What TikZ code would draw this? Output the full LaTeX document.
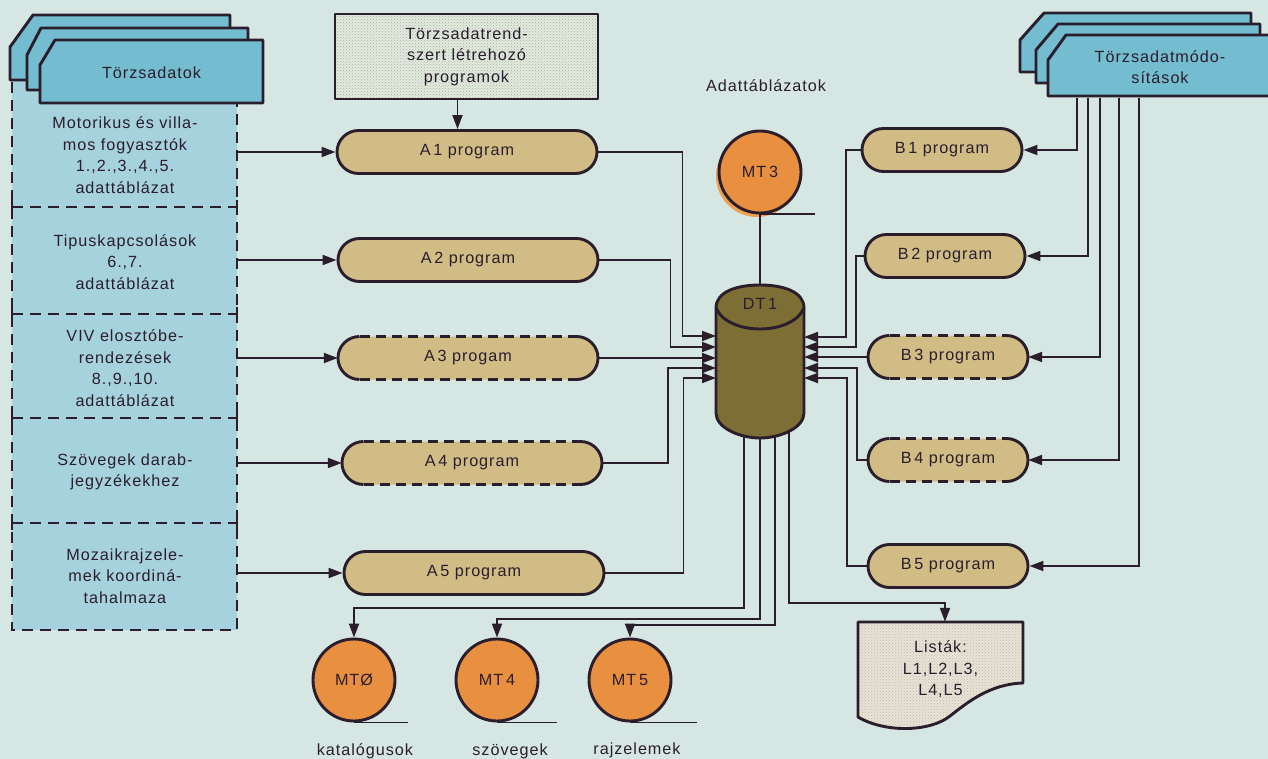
\documentclass[tikz,border=0pt]{standalone}
\usepackage{fontspec}
\setmainfont{Liberation Sans}[LetterSpace=6.0]
\usetikzlibrary{arrows.meta,shapes.misc,patterns}

\definecolor{page}{RGB}{214,230,226}
\definecolor{ink}{RGB}{42,30,45}
\definecolor{tab}{RGB}{116,188,208}
\definecolor{sheet}{RGB}{166,210,221}
\definecolor{prog}{RGB}{208,188,132}
\definecolor{tape}{RGB}{232,143,64}
\definecolor{tapeghost}{RGB}{236,160,84}
\definecolor{drum}{RGB}{124,110,52}
\definecolor{dotbg}{RGB}{226,234,222}
\definecolor{dotfg}{RGB}{168,182,162}
\definecolor{listbg}{RGB}{230,228,216}
\definecolor{listfg}{RGB}{205,182,165}

\newcommand\diagfont{\fontsize{16.2}{21.5}\selectfont}

\tikzset{
  every node/.style={text=ink},
  wire/.style={draw=ink, line width=1.9pt},
  conn/.style={wire, -{Triangle[length=14pt,width=10pt]}},
  outline/.style={draw=ink, line width=2.9pt, line join=round},
  framedash/.style={draw=ink, line width=2.9pt, dash pattern=on 11pt off 7pt},
  tick/.style={draw=ink, line width=2.9pt},
  pill/.style={rounded rectangle, fill=prog, minimum height=43, inner sep=0},
  apill/.style={pill, minimum width=260},
  bpill/.style={pill, minimum width=160},
  sect/.style={align=center, minimum width=225, inner sep=0},
  tapenode/.style={circle, fill=tape, outline, minimum size=82, inner sep=0},
  dotted box/.style={outline, preaction={fill=dotbg}, pattern=crosshatch dots, pattern color=dotfg},
}

% border of a program pill whose long sides are dashed: centre x, centre y, half width, end radius
\newcommand\dashrim[4]{%
  \draw[outline] ({#1+#3-#4},{#2-#4}) arc[start angle=-90,end angle=90,radius=#4];
  \draw[outline] ({#1-#3+#4},{#2+#4}) arc[start angle=90,end angle=270,radius=#4];
  \draw[outline, dash pattern=on 10pt off 6pt] ({#1-#3+#4},{#2-#4}) -- ({#1+#3-#4},{#2-#4});
  \draw[outline, dash pattern=on 10pt off 6pt] ({#1-#3+#4},{#2+#4}) -- ({#1+#3-#4},{#2+#4});
}

\begin{document}
\begin{tikzpicture}[x=1pt,y=-1pt,font=\diagfont]
\useasboundingbox (0,0) rectangle (1268,759);
\fill[page] (0,0) rectangle (1268,759);

% ---- master data: stacked folders and the dashed sheet of tables
\fill[sheet] (12,80) rectangle (237,630);
\draw[framedash] (12,82) -- (12,630) -- (237,630) -- (237,103);
\foreach \y in {207,314,418,523} {
  \draw[framedash] (12,\y) -- (237,\y);
  \draw[tick] (12,{\y-7}) -- (12,{\y+7});
  \draw[tick] (237,{\y-7}) -- (237,{\y+7});
}
\draw[outline, fill=tab] (10,80) -- (10,47) -- (33,15) -- (230,15) -- (230,80) -- cycle;
\draw[outline, fill=tab] (27,90) -- (27,55) -- (41,28) -- (248,28) -- (248,90) -- cycle;
\draw[outline, fill=tab] (40,103) -- (40,65) -- (55,40) -- (263,40) -- (263,103) -- cycle;
\node[minimum width=223, minimum height=63, inner sep=0] (tzf) at (151.5,72.5) {Törzsadatok};

\node[sect] (s1) at (125,155) {Motorikus és villa-\\mos fogyasztók\\1.,2.,3.,4.,5.\\adattáblázat};
\node[sect] (s2) at (125,262) {Tipuskapcsolások\\6.,7.\\adattáblázat};
\node[sect] (s3) at (125,368) {VIV elosztóbe-\\rendezések\\8.,9.,10.\\adattáblázat};
\node[sect] (s4) at (125,472) {Szövegek darab-\\jegyzékekhez};
\node[sect] (s5) at (125,576) {Mozaikrajzele-\\mek koordiná-\\tahalmaza};

% ---- modification folders
\draw[outline, fill=tab] (1020,72) -- (1020,40) -- (1044,13) -- (1251,13) -- (1251,72) -- cycle;
\draw[outline, fill=tab] (1036,83) -- (1036,50) -- (1058,24) -- (1260,24) -- (1260,83) -- cycle;
\draw[outline, fill=tab] (1048,96) -- (1048,60) -- (1066,35) -- (1280,35) -- (1280,96) -- cycle;
\node[minimum width=220, minimum height=61, inner sep=0, align=center] (tmf) at (1160,67)
  {Törzsadatmódo-\\sítások};

% ---- system generator programs
\node[dotted box, minimum width=263, minimum height=85, inner sep=0, align=center] (tzr)
  at (466.5,56.5) {Törzsadatrend-\\szert létrehozó\\programok};

% ---- A programs
\node[apill, outline] (a1) at (467,152) {A\,1 program};
\node[apill, outline] (a2) at (468,260) {A\,2 program};
\node[apill] (a3) at (468,358) {A\,3 progam};
\dashrim{468}{358}{130}{21.5}
\node[apill] (a4) at (472,463) {A\,4 program};
\dashrim{472}{463}{130}{21.5}
\node[apill, outline] (a5) at (474,573) {A\,5 program};

% ---- B programs
\node[bpill, outline] (b1) at (942,150) {B\,1 program};
\node[bpill, outline] (b2) at (945,256) {B\,2 program};
\node[bpill] (b3) at (948,357) {B\,3 program};
\dashrim{948}{357}{80}{21.5}
\node[bpill] (b4) at (948,460) {B\,4 program};
\dashrim{948}{460}{80}{21.5}
\node[bpill, outline] (b5) at (948,566) {B\,5 program};

% ---- tables
\node (adt) at (766,86) {Adattáblázatok};
\fill[tapeghost] (757,176) circle (41);
\node[tapenode] (mt3) at (760,172) {MT\,3};
\draw[wire] (mt3.south) -- ++(55,0);

\node[tapenode] (mt0) at (354,680) {MTØ};
\node[tapenode] (mt4) at (497,680) {MT\,4};
\node[tapenode] (mt5) at (630,680) {MT\,5};
\draw[wire] (mt0.south) -- ++(54,0);
\draw[wire] (mt4.south) -- ++(60,0);
\draw[wire] (mt5.south) -- ++(67,0);
\node (lk) at (365,751) {katalógusok};
\node (ls) at (510,751) {szövegek};
\node (lr) at (637,750) {rajzelemek};

% ---- printed lists
\draw[outline, preaction={fill=listbg}, pattern=crosshatch dots, pattern color=listfg]
  (858,622) -- (1023,622) -- (1023,683) .. controls (990,684) and (968,702) .. (950,716)
  .. controls (930,732) and (885,733) .. (858,717) -- cycle;
\node[minimum width=165, minimum height=95, inner sep=0, align=center] (lst) at (940.5,669.5)
  {Listák:\\L1,L2,L3,\\L4,L5};

% ---- central data store DT1 and its ports
\node[minimum width=88, minimum height=153, inner sep=0] (dt1) at (760,361.5) {};
\coordinate (pL1) at (716,336); \coordinate (pL2) at (716,347); \coordinate (pL3) at (716,358);
\coordinate (pL4) at (716,368); \coordinate (pL5) at (716,378);
\coordinate (pR1) at (804,337); \coordinate (pR2) at (804,347); \coordinate (pR3) at (804,357);
\coordinate (pR4) at (804,368); \coordinate (pR5) at (804,378);
\coordinate (pB1) at (744,425); \coordinate (pB2) at (760,425); \coordinate (pB3) at (775,425);
\coordinate (pB4) at (789,422);
\coordinate (lj) at (945,603);

% outputs of DT1
\draw[conn] (pB1) |- ([yshift=30]mt0.north) -- (mt0.north);
\draw[conn] (pB2) |- ([yshift=19]mt4.north) -- (mt4.north);
\draw[conn] (pB3) |- ([yshift=13]mt5.north) -- (mt5.north);
\draw[conn] (pB4) |- (lj) -- (lj |- lst.north);

\draw[outline, fill=drum] (716,308) -- (716,413) .. controls (716,428) and (740,438) .. (760,438)
  .. controls (780,438) and (804,428) .. (804,413) -- (804,308)
  .. controls (804,292) and (784,285) .. (760,285) .. controls (736,285) and (716,292) .. (716,308) -- cycle;
\draw[outline] (716,308) .. controls (728,336) and (792,336) .. (804,308);
\node (dtl) at (760,304) {DT\,1};

\draw[wire] (mt3.south) -- (dt1.north);

% ---- master data into the A programs
\draw[conn] (s1.east |- a1.west) -- (a1.west);
\draw[conn] (s2.east |- a2.west) -- (a2.west);
\draw[conn] (s3.east |- a3.west) -- (a3.west);
\draw[conn] (s4.east |- a4.west) -- (a4.west);
\draw[conn] (s5.east |- a5.west) -- (a5.west);
\draw[conn] ([xshift=-9]tzr.south) -- ([xshift=-9]tzr.south |- a1.north);

% ---- A programs into DT1
\draw[conn] (a1.east) -- ++(84,0) |- (pL1);
\draw[conn] (a2.east) -- ++(71,0) |- (pL2);
\draw[conn] (a3.east) -- (pL3);
\draw[conn] (a4.east) -- ++(66,0) |- (pL4);
\draw[conn] (a5.east) -- ++(78,0) |- (pL5);

% ---- B programs into DT1
\draw[conn] (b1.west) -- ++(-15,0) |- (pR1);
\draw[conn] (b2.west) -- ++(-8,0) |- (pR2);
\draw[conn] (b3.west) -- (pR3);
\draw[conn] (b4.west) -- ++(-11,0) |- (pR4);
\draw[conn] (b5.west) -- ++(-20,0) |- (pR5);

% ---- modifications into the B programs
\draw[conn] ([xshift=27]tmf.south west) |- (b1.east);
\draw[conn] ([xshift=38]tmf.south west) |- (b2.east);
\draw[conn] ([xshift=50]tmf.south west) |- (b3.east);
\draw[conn] ([xshift=69]tmf.south west) |- (b4.east);
\draw[conn] ([xshift=89]tmf.south west) |- (b5.east);
\end{tikzpicture}
\end{document}
